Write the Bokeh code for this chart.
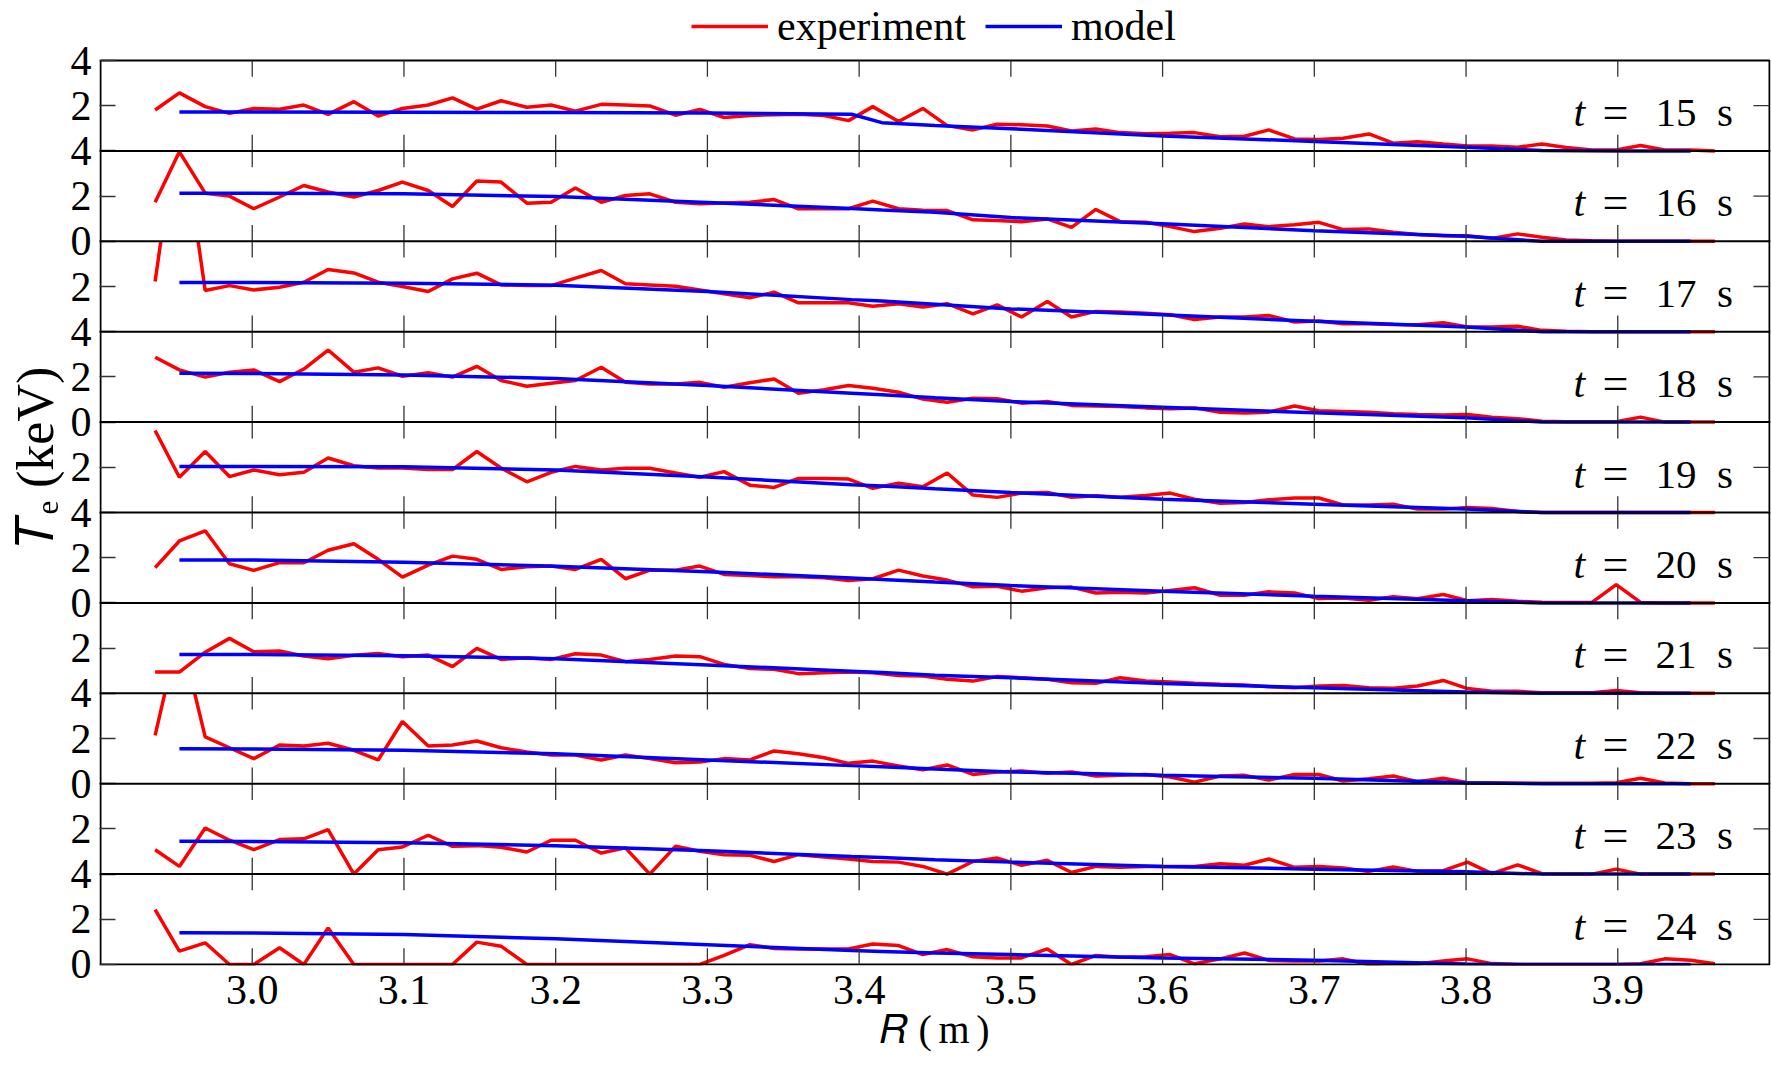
import numpy as np
from bokeh.plotting import figure
from bokeh.models import Range1d, FixedTicker, Span, Legend, LegendItem, NumeralTickFormatter, LinearAxis
from bokeh.core.properties import value
from bokeh.embed import file_html
from bokeh.resources import INLINE

# ---------------- data ----------------
R_exp = [2.936, 2.952, 2.969, 2.985, 3.001, 3.018, 3.034, 3.050, 3.067, 3.083,
         3.099, 3.116, 3.132, 3.148, 3.164, 3.181, 3.197, 3.213, 3.230, 3.246,
         3.262, 3.279, 3.295, 3.311, 3.328, 3.344, 3.360, 3.377, 3.393, 3.409,
         3.426, 3.442, 3.458, 3.475, 3.491, 3.507, 3.524, 3.540, 3.556, 3.572,
         3.589, 3.605, 3.621, 3.638, 3.654, 3.670, 3.687, 3.703, 3.719, 3.736,
         3.752, 3.768, 3.785, 3.801, 3.817, 3.834, 3.850, 3.866, 3.883, 3.899,
         3.915, 3.931, 3.948, 3.964]
R_model = [2.952, 3.0, 3.1, 3.2, 3.3, 3.395, 3.415, 3.45, 3.5, 3.6, 3.7, 3.8, 3.85, 3.9, 3.948]

times = [15, 16, 17, 18, 19, 20, 21, 22, 23, 24]

exp_t15 = [1.81, 2.57, 1.96, 1.66, 1.88, 1.84, 2.03, 1.62, 2.18, 1.54, 1.88, 2.03, 2.35, 1.85, 2.22, 1.93,
           2.03, 1.76, 2.06, 2.03, 1.99, 1.58, 1.84, 1.48, 1.57, 1.60, 1.62, 1.57, 1.34, 1.96, 1.30, 1.88,
           1.12, 0.93, 1.18, 1.16, 1.10, 0.88, 0.97, 0.81, 0.76, 0.78, 0.81, 0.63, 0.65, 0.93, 0.53, 0.51,
           0.56, 0.75, 0.34, 0.41, 0.31, 0.22, 0.22, 0.16, 0.31, 0.15, 0.04, 0.04, 0.24, 0.04, 0.04, 0.0]
exp_t16 = [1.73, 3.96, 2.13, 2.00, 1.44, 1.96, 2.47, 2.18, 1.96, 2.25, 2.62, 2.25, 1.54, 2.67, 2.62, 1.69,
           1.73, 2.36, 1.73, 2.03, 2.10, 1.73, 1.66, 1.70, 1.73, 1.85, 1.44, 1.44, 1.44, 1.78, 1.44, 1.38,
           1.36, 0.95, 0.92, 0.87, 0.99, 0.62, 1.41, 0.87, 0.84, 0.65, 0.43, 0.58, 0.77, 0.65, 0.73, 0.84,
           0.52, 0.55, 0.40, 0.30, 0.25, 0.25, 0.13, 0.33, 0.18, 0.06, 0.02, 0.0, 0.0, 0.0, 0.0, 0.0]
exp_t17 = [2.22, 9.8, 1.82, 2.04, 1.85, 1.97, 2.19, 2.75, 2.60, 2.19, 2.00, 1.78, 2.34, 2.59, 2.07, 2.04,
           2.04, 2.37, 2.71, 2.12, 2.07, 2.01, 1.85, 1.68, 1.50, 1.75, 1.28, 1.28, 1.28, 1.13, 1.24, 1.09,
           1.24, 0.79, 1.19, 0.65, 1.34, 0.65, 0.90, 0.87, 0.82, 0.75, 0.54, 0.65, 0.65, 0.72, 0.43, 0.47,
           0.35, 0.35, 0.32, 0.31, 0.40, 0.21, 0.21, 0.24, 0.06, 0.02, 0.0, 0.0, 0.0, 0.0, 0.0, 0.0]
exp_t18 = [2.87, 2.31, 1.99, 2.21, 2.31, 1.79, 2.35, 3.19, 2.21, 2.40, 2.03, 2.18, 1.99, 2.47, 1.84, 1.59,
           1.72, 1.84, 2.43, 1.76, 1.69, 1.69, 1.76, 1.54, 1.74, 1.91, 1.28, 1.43, 1.62, 1.50, 1.32, 1.02,
           0.88, 1.06, 1.03, 0.84, 0.91, 0.74, 0.71, 0.69, 0.63, 0.59, 0.63, 0.44, 0.40, 0.44, 0.71, 0.50,
           0.47, 0.44, 0.37, 0.34, 0.32, 0.34, 0.22, 0.15, 0.04, 0.02, 0.02, 0.02, 0.22, 0.0, 0.0, 0.0]
exp_t19 = [3.63, 1.56, 2.70, 1.59, 1.88, 1.67, 1.78, 2.41, 2.07, 1.97, 1.97, 1.90, 1.90, 2.70, 1.97, 1.36,
           1.78, 2.04, 1.88, 1.96, 1.96, 1.75, 1.56, 1.81, 1.21, 1.11, 1.51, 1.51, 1.48, 1.07, 1.30, 1.14,
           1.75, 0.77, 0.67, 0.86, 0.89, 0.67, 0.74, 0.67, 0.75, 0.86, 0.59, 0.41, 0.44, 0.56, 0.64, 0.64,
           0.33, 0.33, 0.37, 0.15, 0.15, 0.22, 0.18, 0.04, 0.0, 0.0, 0.0, 0.0, 0.0, 0.0, 0.0, 0.0]
exp_t20 = [1.56, 2.74, 3.19, 1.73, 1.44, 1.78, 1.78, 2.33, 2.62, 1.93, 1.14, 1.67, 2.07, 1.93, 1.48, 1.60,
           1.63, 1.48, 1.93, 1.07, 1.45, 1.45, 1.63, 1.26, 1.21, 1.16, 1.16, 1.11, 0.99, 1.07, 1.45, 1.19,
           1.01, 0.71, 0.74, 0.52, 0.67, 0.70, 0.44, 0.47, 0.44, 0.55, 0.67, 0.34, 0.34, 0.49, 0.44, 0.19,
           0.22, 0.12, 0.27, 0.18, 0.37, 0.10, 0.15, 0.07, 0.03, 0.02, 0.02, 0.81, 0.02, 0.0, 0.0, 0.0]
exp_t21 = [0.94, 0.94, 1.82, 2.43, 1.84, 1.87, 1.65, 1.53, 1.68, 1.76, 1.62, 1.69, 1.18, 1.99, 1.50, 1.57,
           1.50, 1.75, 1.69, 1.40, 1.50, 1.65, 1.62, 1.28, 1.10, 1.06, 0.87, 0.91, 0.94, 0.91, 0.79, 0.77,
           0.62, 0.54, 0.74, 0.69, 0.62, 0.47, 0.44, 0.69, 0.54, 0.50, 0.44, 0.40, 0.37, 0.29, 0.25, 0.32,
           0.35, 0.25, 0.22, 0.32, 0.57, 0.21, 0.09, 0.09, 0.03, 0.03, 0.03, 0.13, 0.03, 0.0, 0.0, 0.0]
exp_t22 = [2.14, 6.8, 2.07, 1.59, 1.11, 1.71, 1.67, 1.79, 1.48, 1.05, 2.75, 1.67, 1.71, 1.89, 1.59, 1.40,
           1.27, 1.27, 1.05, 1.27, 1.11, 0.93, 0.96, 1.11, 1.05, 1.45, 1.33, 1.15, 0.90, 1.00, 0.78, 0.62,
           0.83, 0.41, 0.52, 0.56, 0.46, 0.52, 0.34, 0.37, 0.41, 0.30, 0.07, 0.34, 0.37, 0.16, 0.41, 0.41,
           0.12, 0.22, 0.34, 0.09, 0.24, 0.04, 0.03, 0.02, 0.02, 0.02, 0.02, 0.04, 0.24, 0.03, 0.0, 0.0]
exp_t23 = [1.08, 0.34, 2.04, 1.50, 1.08, 1.53, 1.56, 1.97, 0.0, 1.08, 1.20, 1.72, 1.23, 1.26, 1.19, 0.98,
           1.50, 1.50, 0.93, 1.16, 0.0, 1.23, 1.01, 0.86, 0.83, 0.56, 0.86, 0.76, 0.67, 0.56, 0.53, 0.34,
           0.0, 0.56, 0.71, 0.39, 0.61, 0.07, 0.34, 0.30, 0.34, 0.34, 0.34, 0.46, 0.39, 0.67, 0.30, 0.34,
           0.27, 0.12, 0.31, 0.12, 0.15, 0.53, 0.02, 0.41, 0.02, 0.0, 0.0, 0.22, 0.0, 0.0, 0.0, 0.0]
exp_t24 = [2.43, 0.59, 0.96, 0.0, 0.0, 0.74, 0.0, 1.62, 0.0, 0.0, 0.0, 0.0, 0.0, 0.99, 0.81, 0.0,
           0.0, 0.0, 0.0, 0.0, 0.0, 0.0, 0.0, 0.40, 0.88, 0.71, 0.69, 0.69, 0.69, 0.91, 0.84, 0.44,
           0.66, 0.34, 0.29, 0.29, 0.69, 0.0, 0.40, 0.32, 0.34, 0.44, 0.03, 0.25, 0.51, 0.18, 0.15, 0.15,
           0.25, 0.0, 0.04, 0.03, 0.15, 0.25, 0.04, 0.0, 0.0, 0.0, 0.0, 0.0, 0.03, 0.25, 0.19, 0.03]

mod_t15 = [1.72, 1.72, 1.71, 1.70, 1.68, 1.62, 1.25, 1.12, 0.98, 0.66, 0.42, 0.16, 0.02, 0.0, 0.0]
mod_t16 = [2.13, 2.13, 2.11, 1.98, 1.72, 1.45, 1.39, 1.29, 1.05, 0.78, 0.47, 0.22, 0.0, 0.0, 0.0]
mod_t17 = [2.18, 2.18, 2.14, 2.06, 1.78, 1.42, 1.36, 1.22, 1.01, 0.75, 0.46, 0.21, 0.0, 0.0, 0.0]
mod_t18 = [2.16, 2.15, 2.09, 1.93, 1.62, 1.28, 1.21, 1.08, 0.91, 0.66, 0.41, 0.19, 0.0, 0.0, 0.0]
mod_t19 = [2.04, 2.04, 2.02, 1.88, 1.57, 1.23, 1.17, 1.05, 0.89, 0.59, 0.37, 0.15, 0.0, 0.0, 0.0]
mod_t20 = [1.90, 1.90, 1.80, 1.62, 1.38, 1.10, 1.04, 0.92, 0.77, 0.52, 0.30, 0.10, 0.0, 0.0, 0.0]
mod_t21 = [1.72, 1.72, 1.66, 1.53, 1.25, 0.98, 0.92, 0.80, 0.69, 0.43, 0.25, 0.06, 0.0, 0.0, 0.0]
mod_t22 = [1.55, 1.54, 1.48, 1.32, 1.05, 0.80, 0.75, 0.65, 0.52, 0.37, 0.24, 0.04, 0.0, 0.0, 0.0]
mod_t23 = [1.45, 1.44, 1.39, 1.26, 1.03, 0.78, 0.73, 0.64, 0.53, 0.34, 0.22, 0.10, 0.0, 0.0, 0.0]
mod_t24 = [1.40, 1.39, 1.33, 1.14, 0.87, 0.62, 0.58, 0.51, 0.44, 0.29, 0.19, 0.02, 0.0, 0.0, 0.0]

x_ticks = [3.0, 3.1, 3.2, 3.3, 3.4, 3.5, 3.6, 3.7, 3.8, 3.9]
panel_y_ticks = [0, 2, 4]
# visible left tick labels of each panel (top panel first)
panel_tick_labels = [
    {0: "", 2: "2", 4: "4"},
    {0: "0", 2: "2", 4: "4"},
    {0: "", 2: "2", 4: ""},
    {0: "0", 2: "2", 4: "4"},
    {0: "", 2: "2", 4: ""},
    {0: "0", 2: "2", 4: "4"},
    {0: "", 2: "2", 4: ""},
    {0: "0", 2: "2", 4: "4"},
    {0: "", 2: "2", 4: ""},
    {0: "0", 2: "2", 4: "4"},
]

exp_series = [exp_t15, exp_t16, exp_t17, exp_t18, exp_t19, exp_t20, exp_t21, exp_t22, exp_t23, exp_t24]
mod_series = [mod_t15, mod_t16, mod_t17, mod_t18, mod_t19, mod_t20, mod_t21, mod_t22, mod_t23, mod_t24]

# ---------------- layout ----------------
X0, X1 = 2.9, 4.0
PH = 4.0
N = len(times)
TOPV = N * PH
FONT = "Liberation Serif"
W, H = 1771, 1067
LEFT = 99
RIGHT = 1
BOTTOM = 102
PXM = 1517.3                   # pixels per metre (layout)
PXK = 22.59                    # pixels per keV (layout)
XPAD = 1.0 / PXM
YPAD = 1.0 / PXK
Y_END = TOPV + 60.0 / PXK      # room above the panels for the legend

xr = Range1d(X0 - XPAD, X1 + XPAD)
yr = Range1d(-YPAD, Y_END)

p = figure(width=W, height=H, x_range=xr, y_range=yr,
           output_backend="svg", toolbar_location=None,
           min_border_left=LEFT, min_border_right=RIGHT,
           min_border_top=0, min_border_bottom=BOTTOM)
p.grid.visible = False
p.outline_line_color = None
p.background_fill_color = "white"
p.border_fill_color = "white"

for i in range(N):
    base = (N - 1 - i) * PH
    p.extra_y_ranges[f"p{i}"] = Range1d(start=-YPAD - base, end=Y_END - base)

ticks, overrides = [], {}
for i in range(N):
    base = (N - 1 - i) * PH
    for v in panel_y_ticks:
        pos = base + v
        if pos not in ticks:
            ticks.append(pos)
        lab = panel_tick_labels[i][v]
        if lab or pos not in overrides:
            overrides[pos] = lab
yax = p.yaxis[0]
yax.ticker = FixedTicker(ticks=sorted(ticks))
yax.major_label_overrides = overrides
yax.bounds = (0, TOPV)
yax.major_tick_in = 16
yax.major_tick_out = 0
yax.minor_tick_line_color = None
yax.axis_line_color = None
yax.major_tick_line_color = "#333333"
yax.major_tick_line_width = 1.3
yax.major_label_text_font = FONT
yax.major_label_text_font_size = "42px"
yax.major_label_text_color = "black"
yax.major_label_standoff = 8

# second left axis that only carries the y title (leading en-spaces lift it to the reference position)
p.extra_y_ranges["ytitle"] = Range1d(start=-YPAD, end=Y_END)
ytitle = LinearAxis(y_range_name="ytitle", ticker=FixedTicker(ticks=[]),
                    axis_label="\u2002\u2002\U0001D447\u2091 (keV)", axis_line_color=None,
                    major_tick_line_color=None, minor_tick_line_color=None,
                    major_tick_in=0, major_tick_out=0, minor_tick_in=0, minor_tick_out=0,
                    major_label_text_font_size="0px", major_label_standoff=0,
                    axis_label_standoff=4, axis_label_text_font=FONT,
                    axis_label_text_font_size="52px", axis_label_text_font_style="normal",
                    axis_label_text_color="black")
p.add_layout(ytitle, "left")

xax = p.xaxis[0]
xax.ticker = FixedTicker(ticks=x_ticks)
xax.formatter = NumeralTickFormatter(format="0.0")
xax.major_tick_in = 0
xax.major_tick_out = 0
xax.minor_tick_line_color = None
xax.axis_line_color = None
xax.major_label_text_font = FONT
xax.major_label_text_font_size = "42px"
xax.major_label_text_color = "black"
xax.major_label_standoff = 10
xax.axis_label = "\U0001D445 (\u2006m\u2006)"
xax.axis_label_text_font = FONT
xax.axis_label_text_font_size = "40px"
xax.axis_label_text_font_style = "normal"
xax.axis_label_text_color = "black"
xax.axis_label_standoff = 0

red_r, blue_r = [], []
for i in reversed(range(N)):
    name = f"p{i}"
    p.quad(left=[X0], right=[X1], bottom=[0], top=[PH], y_range_name=name,
           fill_color="white", line_color=None)
    r1 = p.line(R_exp, exp_series[i], y_range_name=name, line_color="#ff0000", line_width=3.5)
    r2 = p.line(R_model, mod_series[i], y_range_name=name, line_color="#0000ff", line_width=3.5)
    red_r.append(r1)
    blue_r.append(r2)
    p.text(x=[3.8708], y=[1.72], text=["t"], y_range_name=name, text_font=value(FONT),
           text_font_style="italic", text_font_size="42px", text_baseline="alphabetic",
           text_align="left", text_color="black")
    p.text(x=[3.8900], y=[1.72], text=["="], y_range_name=name, text_font=value(FONT),
           text_font_size="46px", text_baseline="alphabetic", text_align="left", text_color="black")
    p.text(x=[3.9248], y=[1.72], text=[f"{times[i]}\u2002s"], y_range_name=name, text_font=value(FONT),
           text_font_size="41px", text_baseline="alphabetic", text_align="left", text_color="black")

# panel separators and outer box
for i in range(1, N):
    p.add_layout(Span(location=i * PH, dimension="width", line_color="black", line_width=2))
p.quad(left=[X0], right=[X1], bottom=[0], top=[TOPV], fill_color=None,
       line_color="black", line_width=2)

tick_len = 0.72
xs0, ys0, ys1 = [], [], []
for j in range(N + 1):
    b = j * PH
    for xt in x_ticks:
        xs0.append(xt)
        ys0.append(max(b - tick_len, 0))
        ys1.append(min(b + tick_len, TOPV))
p.segment(x0=xs0, y0=ys0, x1=xs0, y1=ys1, line_color="#333333", line_width=1.3)
rx0, ry = [], []
for i in range(N):
    base = (N - 1 - i) * PH
    for v in panel_y_ticks[1:-1]:
        ry.append(base + v)
        rx0.append(X1 - 0.0106)
p.segment(x0=rx0, y0=ry, x1=[X1] * len(ry), y1=ry, line_color="#333333", line_width=1.3)

legend = Legend(items=[LegendItem(label="experiment", renderers=[red_r[-1]]),
                       LegendItem(label="model", renderers=[blue_r[-1]])],
                location=(592, 915), orientation="horizontal",
                label_text_font=FONT, label_text_font_size="42px", label_text_color="black",
                glyph_width=77, glyph_height=20, label_standoff=9, spacing=19,
                padding=0, margin=0, border_line_color=None, background_fill_alpha=0)
p.add_layout(legend)

open("out.html", "w").write(file_html(p, INLINE))
